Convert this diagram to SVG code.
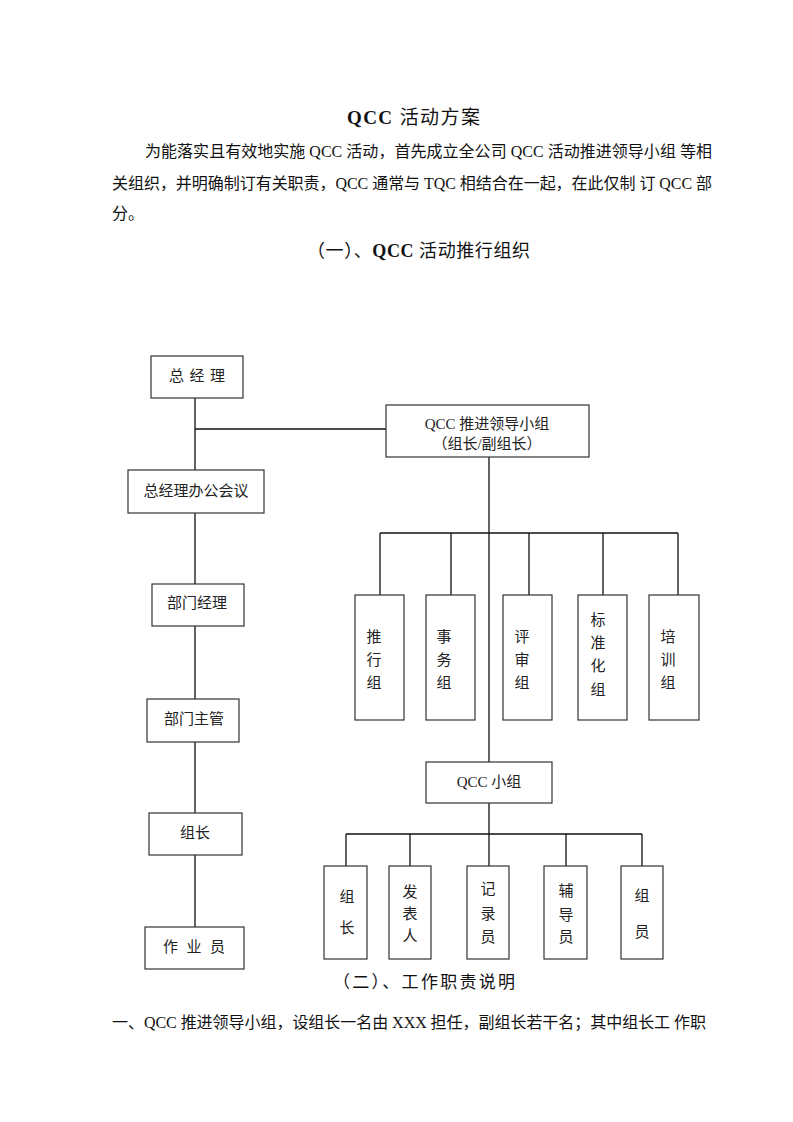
<svg xmlns="http://www.w3.org/2000/svg" width="793" height="1122" viewBox="0 0 793 1122">
<style>
.t{font-family:"Liberation Serif","Noto Sans CJK SC",serif;fill:#111}
.b{font-family:"Liberation Serif","Noto Sans CJK SC",serif;fill:#222;font-size:15px;text-anchor:middle}
.box{fill:#fff;stroke:#333;stroke-width:1.2}
.ln{stroke:#111;stroke-width:1.3;fill:none}
</style>
<rect width="793" height="1122" fill="#fff"/>
<text class="t" x="347" y="124" font-size="19" textLength="133" lengthAdjust="spacing"><tspan font-weight="bold">QCC</tspan> 活动方案</text>
<text class="t" x="145" y="157" font-size="16" textLength="567" lengthAdjust="spacing">为能落实且有效地实施 QCC 活动，首先成立全公司 QCC 活动推进领导小组 等相</text>
<text class="t" x="112" y="189" font-size="16" textLength="600" lengthAdjust="spacing">关组织，并明确制订有关职责，QCC 通常与 TQC 相结合在一起，在此仅制 订 QCC 部</text>
<text class="t" x="112" y="219" font-size="16">分。</text>
<text class="t" x="307" y="257" font-size="18" textLength="223" lengthAdjust="spacing">（一）、<tspan font-weight="bold">QCC</tspan> 活动推行组织</text>

<g id="connectors">
<path class="ln" d="M195 398V470M195 429H386M195 513V584M195 626V699M195 742V813M195 855V927"/>
<path class="ln" d="M489 457V762M380 533H678M380 533V595M451 533V595M529 533V595M603 533V595M678 533V595"/>
<path class="ln" d="M489 803V834M346 834H642M346 834V866M410 834V866M489 834V866M566 834V866M642 834V866"/>
</g>

<g id="n-zjl"><rect class="box" x="151" y="356" width="92" height="42" stroke-width="1.6"/><text class="b" x="197" y="381" textLength="56" lengthAdjust="spacing">总 经 理</text></g>
<g id="n-lead"><rect class="box" x="386" y="405" width="203" height="52"/><text class="b" x="487" y="429">QCC 推进领导小组</text><text class="b" x="487" y="449">（组长/副组长）</text></g>
<g id="n-meet"><rect class="box" x="128" y="470" width="136" height="43"/><text class="b" x="196" y="496">总经理办公会议</text></g>
<g id="n-bmjl"><rect class="box" x="152" y="584" width="92" height="42"/><text class="b" x="197" y="608">部门经理</text></g>
<g id="n-bmzg"><rect class="box" x="147" y="699" width="92" height="43"/><text class="b" x="194" y="724">部门主管</text></g>
<g id="n-zz"><rect class="box" x="149" y="813" width="93" height="42"/><text class="b" x="195" y="838">组长</text></g>
<g id="n-zyy"><rect class="box" x="145" y="927" width="99" height="42"/><text class="b" x="194" y="952" textLength="62" lengthAdjust="spacing">作 业 员</text></g>

<g id="n-tx"><rect class="box" x="355" y="595" width="49" height="125"/><text class="b" x="374" y="642">推</text><text class="b" x="374" y="665">行</text><text class="b" x="374" y="688">组</text></g>
<g id="n-sw"><rect class="box" x="426" y="595" width="49" height="125"/><text class="b" x="444" y="642">事</text><text class="b" x="444" y="665">务</text><text class="b" x="444" y="688">组</text></g>
<g id="n-ps"><rect class="box" x="503" y="595" width="49" height="125"/><text class="b" x="522" y="642">评</text><text class="b" x="522" y="665">审</text><text class="b" x="522" y="688">组</text></g>
<g id="n-bzh"><rect class="box" x="578" y="595" width="49" height="125"/><text class="b" x="598" y="625">标</text><text class="b" x="598" y="648">准</text><text class="b" x="598" y="671">化</text><text class="b" x="598" y="695">组</text></g>
<g id="n-px"><rect class="box" x="649" y="595" width="50" height="125"/><text class="b" x="668" y="642">培</text><text class="b" x="668" y="665">训</text><text class="b" x="668" y="688">组</text></g>

<g id="n-qcc"><rect class="box" x="426" y="762" width="126" height="41"/><text class="b" x="489" y="787">QCC 小组</text></g>

<g id="n-q1"><rect class="box" x="324" y="866" width="43" height="93"/><text class="b" x="347" y="902">组</text><text class="b" x="347" y="933">长</text></g>
<g id="n-q2"><rect class="box" x="389" y="866" width="42" height="93"/><text class="b" x="410" y="897">发</text><text class="b" x="410" y="919">表</text><text class="b" x="410" y="941">人</text></g>
<g id="n-q3"><rect class="box" x="467" y="866" width="42" height="93"/><text class="b" x="488" y="894">记</text><text class="b" x="488" y="919">录</text><text class="b" x="488" y="942">员</text></g>
<g id="n-q4"><rect class="box" x="544" y="866" width="43" height="93"/><text class="b" x="566" y="896">辅</text><text class="b" x="566" y="920">导</text><text class="b" x="566" y="942">员</text></g>
<g id="n-q5"><rect class="box" x="621" y="866" width="42" height="93"/><text class="b" x="642" y="901">组</text><text class="b" x="642" y="937">员</text></g>

<text class="t" x="333" y="988" font-size="17" textLength="182" lengthAdjust="spacing">（二）、工作职责说明</text>
<text class="t" x="112" y="1028" font-size="16" textLength="594" lengthAdjust="spacing">一、QCC 推进领导小组，设组长一名由 XXX 担任，副组长若干名；其中组长工 作职</text>
</svg>
